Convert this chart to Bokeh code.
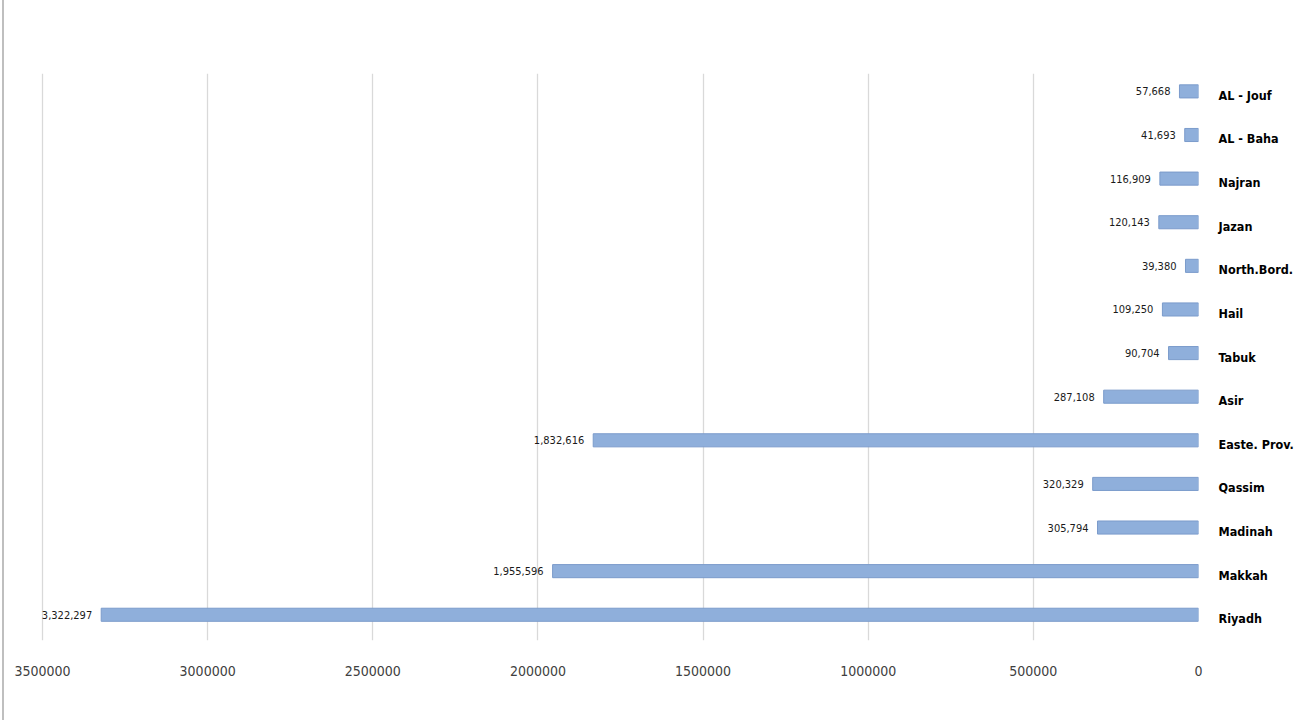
from bokeh.plotting import figure
from bokeh.models import Range1d, FactorRange, FixedTicker, BasicTickFormatter, ColumnDataSource
from bokeh.transform import dodge
from bokeh.core.properties import value
from bokeh.embed import file_html
from bokeh.resources import INLINE

# bottom-to-top order
regions = ["Riyadh", "Makkah", "Madinah", "Qassim", "Easte. Prov.", "Asir", "Tabuk",
           "Hail", "North.Bord.", "Jazan", "Najran", "AL - Baha", "AL - Jouf"]
counts = [3322297, 1955596, 305794, 320329, 1832616, 287108, 90704,
          109250, 39380, 120143, 116909, 41693, 57668]
labels = [f"{v:,}" for v in counts]
ticks = [0, 500000, 1000000, 1500000, 2000000, 2500000, 3000000, 3500000]

NARROW = "'Liberation Sans Narrow', 'DejaVu Sans Condensed', sans-serif"

src = ColumnDataSource(dict(region=regions, count=counts, label=labels))

# frame spans x from 10 to 1198 px; 3500000 sits at 42 px, 0 at 1198 px
p = figure(width=1299, height=720, output_backend="svg", toolbar_location=None,
           x_range=Range1d(3596900, 0), y_range=FactorRange(*regions, range_padding=0),
           y_axis_location="right", x_axis_location="below",
           min_border_left=10, min_border_right=101, min_border_top=73, min_border_bottom=80)

p.outline_line_color = None
p.background_fill_color = "white"
p.border_fill_color = "white"
p.border_fill_alpha = 0

p.xgrid.grid_line_color = "#D9D9D9"
p.xgrid.grid_line_width = 1.3
p.ygrid.grid_line_color = None

p.xaxis.ticker = FixedTicker(ticks=ticks)
p.xaxis.formatter = BasicTickFormatter(use_scientific=False)
p.xaxis.axis_line_color = None
p.xaxis.major_tick_line_color = None
p.xaxis.minor_tick_line_color = None
p.xaxis.major_label_text_font = NARROW
p.xaxis.major_label_text_font_size = "14px"
p.xaxis.major_label_text_color = "#404040"
p.xaxis.major_label_standoff = 19

p.yaxis.axis_line_color = None
p.yaxis.major_tick_line_color = None
p.yaxis.minor_tick_line_color = None
p.yaxis.major_label_text_font = NARROW
p.yaxis.major_label_text_font_style = "bold"
p.yaxis.major_label_text_font_size = "12.5px"
p.yaxis.major_label_text_color = "#000000"
p.yaxis.major_label_standoff = 14

ypos = dodge("region", 0.09, range=p.y_range)
p.hbar(y=ypos, left=0, right="count", height=0.3, source=src,
       fill_color="#8FAFDB", line_color="#7B9BCB", line_width=1)

p.text(x="count", y=ypos, text="label", source=src, x_offset=-9,
       text_align="right", text_baseline="middle",
       text_font=value(NARROW), text_font_size="11px", text_color="#1A1A1A")

p.styles = {"box-shadow": "inset 2px 0 0 0 #FFFFFF, inset 4px 0 0 0 #BFBFBF"}

open("out.html", "w").write(file_html(p, INLINE))
